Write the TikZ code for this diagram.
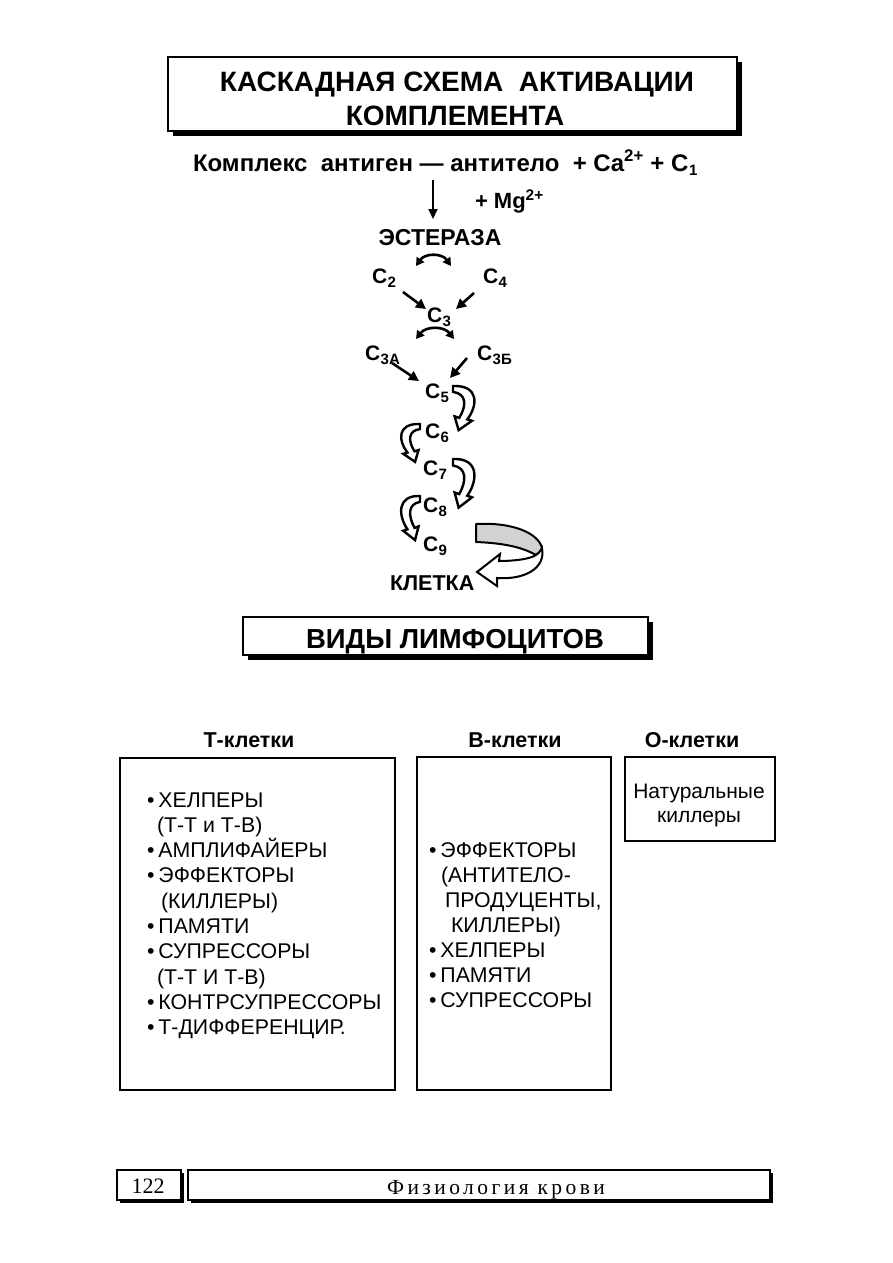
\documentclass[tikz,border=0pt]{standalone}
\usepackage{fontspec}
\setmainfont{Liberation Sans}
\newfontfamily\seriffont{Liberation Serif}
\usetikzlibrary{arrows.meta,shadows}
\newcommand\csub[1]{\kern0.5pt\raisebox{-4.5pt}{\fontsize{15}{15}\selectfont #1}}
\begin{document}
\begin{tikzpicture}[x=1pt,y=-1pt,
  every node/.style={inner sep=0pt, outer sep=0pt},
  shbox/.style={draw, line width=2pt, fill=white,
     drop shadow={shadow xshift=5pt, shadow yshift=-5pt, fill=black, opacity=1}},
  smbox/.style={draw, line width=1.5pt, fill=white,
     drop shadow={shadow xshift=3pt, shadow yshift=-3pt, fill=black, opacity=1}},
  plainbox/.style={draw, line width=1.5pt},
  ttl/.style={font=\bfseries\fontsize{28}{33}\selectfont, anchor=base},
  bt/.style={font=\bfseries\fontsize{24}{28}\selectfont, anchor=base west},
  cl/.style={font=\bfseries\fontsize{21}{24}\selectfont, anchor=base west},
  hdr/.style={font=\bfseries\fontsize{21.5}{25}\selectfont, anchor=base},
  lst/.style={font=\fontsize{21.3}{25}\selectfont, anchor=base west},
  arr/.style={line width=2.6pt, -{Triangle[length=10pt,width=10pt]}},
  darr/.style={line width=2.6pt, {Triangle[length=8pt,width=9pt]}-{Triangle[length=8pt,width=9pt]}},
  harrow/.pic={\draw[line width=2.4pt, fill=white, line join=miter]
     (0,0) .. controls (21,-1) and (20,20) .. (11.4,34) -- (15.2,35.5) -- (4.5,45)
     -- (1.3,31) -- (5,32.5) .. controls (11,20) and (11,8) .. (0,6) -- cycle;}
]
\useasboundingbox (0,0) rectangle (893,1263);

% Title
\node[shbox, minimum width=569pt, minimum height=74pt] (titlebox) at (452.5,94) {};
\node[ttl] (title1) at (457,92) {КАСКАДНАЯ СХЕМА~~АКТИВАЦИИ};
\node[ttl] (title2) at (455,125) {КОМПЛЕМЕНТА};

% Cascade
\node[bt] (complex) at (193,171) {Комплекс~~антиген — антитело~~+ Ca\textsuperscript{2+} + C\csub{1}};
\node[bt, font=\bfseries\fontsize{22}{26}\selectfont] (mg) at (475,208) {+ Mg\textsuperscript{2+}};
\coordinate (a0) at (433,180);
\coordinate (a1) at (433,219);
\draw[line width=2pt, -{Triangle[length=10pt,width=9pt]}] (a0) -- (a1);
\node[font=\bfseries\fontsize{23}{26}\selectfont, anchor=base] (est) at (440,245) {ЭСТЕРАЗА};

\coordinate (d1a) at (416,266); \coordinate (d1b) at (451,266);
\draw[darr] (d1a) .. controls (425,253) and (442,253) .. (d1b);

\node[cl] (c2) at (372,283) {C\csub{2}};
\node[cl] (c4) at (483,283) {C\csub{4}};
\node[cl] (c3) at (427,322) {C\csub{3}};
\coordinate (p2) at (403,292); \coordinate (q2) at (426,309);
\coordinate (p4) at (474,293); \coordinate (q4) at (456,309);
\draw[arr] (p2) -- (q2);
\draw[arr] (p4) -- (q4);

\coordinate (d2a) at (416,339); \coordinate (d2b) at (454,339);
\draw[darr] (d2a) .. controls (426,326) and (444,326) .. (d2b);

\node[cl] (c3a) at (365,360) {C\csub{3А}};
\node[cl] (c3b) at (477,360) {C\csub{3Б}};
\node[cl] (c5) at (425,398) {C\csub{5}};
\coordinate (p3a) at (392,363); \coordinate (q3a) at (419,381);
\coordinate (p3b) at (467,358); \coordinate (q3b) at (450,378);
\draw[arr] (p3a) -- (q3a);
\draw[arr] (p3b) -- (q3b);

\node[cl] (c6) at (425,438) {C\csub{6}};
\node[cl] (c7) at (423,475) {C\csub{7}};
\node[cl] (c8) at (423,512) {C\csub{8}};
\node[cl] (c9) at (423,551) {C\csub{9}};

\pic[xscale=1.25,yscale=0.98] at (453,386) {harrow};
\pic[xscale=-1.1,yscale=0.84] at (420,424) {harrow};
\pic[xscale=1.25,yscale=1.08] at (453,459) {harrow};
\pic[xscale=-1.1,yscale=0.98] at (420,496) {harrow};

% big arrow to cell
\draw[line width=2pt, fill=gray!35, line join=round]
  (476,524) .. controls (510,522) and (538,532) .. (542,548)
  .. controls (540,552) and (538,554) .. (536,555)
  .. controls (520,546) and (500,543) .. (476,542) -- cycle;
\draw[line width=2pt, fill=white, line join=miter]
  (542,548) .. controls (546,568) and (525,580) .. (497,578) -- (497,586) -- (477,572)
  -- (500,554) -- (499,561) .. controls (515,561) and (530,559) .. (536,555)
  .. controls (538,554) and (540,552) .. (542,548) -- cycle;
\node[font=\bfseries\fontsize{21.5}{25}\selectfont, anchor=base west] (cell) at (390,590) {КЛЕТКА};

% Lymphocytes title
\node[shbox, minimum width=405pt, minimum height=38pt] (lymbox) at (445.5,636) {};
\node[ttl, font=\bfseries\fontsize{27.5}{33}\selectfont] (lymtitle) at (455,648) {ВИДЫ ЛИМФОЦИТОВ};

% headers
\node[hdr] (ht) at (249,747) {Т-клетки};
\node[hdr] (hb) at (515,747) {В-клетки};
\node[hdr] (ho) at (692,747) {О-клетки};

% boxes
\node[plainbox, minimum width=275pt, minimum height=332pt, anchor=north west] (tbox) at (120,758) {};
\node[plainbox, minimum width=194pt, minimum height=333pt, anchor=north west] (bbox) at (417,757) {};
\node[plainbox, minimum width=150pt, minimum height=84pt, anchor=north west] (obox) at (625,757) {};

\node[lst] (tlist) at (147,807) {\vtop{\baselineskip=25.3pt
  \hbox{•\hspace{4pt}ХЕЛПЕРЫ}
  \hbox{\hspace{10pt}(Т-Т и Т-В)}
  \hbox{•\hspace{4pt}АМПЛИФАЙЕРЫ}
  \hbox{•\hspace{4pt}ЭФФЕКТОРЫ}
  \hbox{\hspace{14pt}(КИЛЛЕРЫ)}
  \hbox{•\hspace{4pt}ПАМЯТИ}
  \hbox{•\hspace{4pt}СУПРЕССОРЫ}
  \hbox{\hspace{10pt}(Т-Т И Т-В)}
  \hbox{•\hspace{4pt}КОНТРСУПРЕССОРЫ}
  \hbox{•\hspace{4pt}Т-ДИФФЕРЕНЦИР.}}};

\node[lst] (blist) at (429,857) {\vtop{\baselineskip=25pt
  \hbox{•\hspace{4pt}ЭФФЕКТОРЫ}
  \hbox{\hspace{12pt}(АНТИТЕЛО-}
  \hbox{\hspace{16pt}ПРОДУЦЕНТЫ,}
  \hbox{\hspace{22pt}КИЛЛЕРЫ)}
  \hbox{•\hspace{4pt}ХЕЛПЕРЫ}
  \hbox{•\hspace{4pt}ПАМЯТИ}
  \hbox{•\hspace{4pt}СУПРЕССОРЫ}}};

\node[font=\fontsize{21}{25}\selectfont, anchor=base] (olist1) at (699,798) {Натуральные};
\node[font=\fontsize{21}{25}\selectfont, anchor=base] (olist2) at (699,822) {киллеры};

% footer
\node[smbox, minimum width=64pt, minimum height=30pt, anchor=north west] (pagebox) at (117,1170) {};
\node[font=\seriffont\fontsize{22}{26}\selectfont, anchor=base] (pagenum) at (148,1193) {122};
\node[smbox, minimum width=582pt, minimum height=30pt, anchor=north west] (footbox) at (188,1170) {};
\node[font=\seriffont\fontsize{21.5}{24}\selectfont\addfontfeature{LetterSpace=16}, anchor=base] (foottext) at (496,1194) {Физиология крови};
\end{tikzpicture}
\end{document}
